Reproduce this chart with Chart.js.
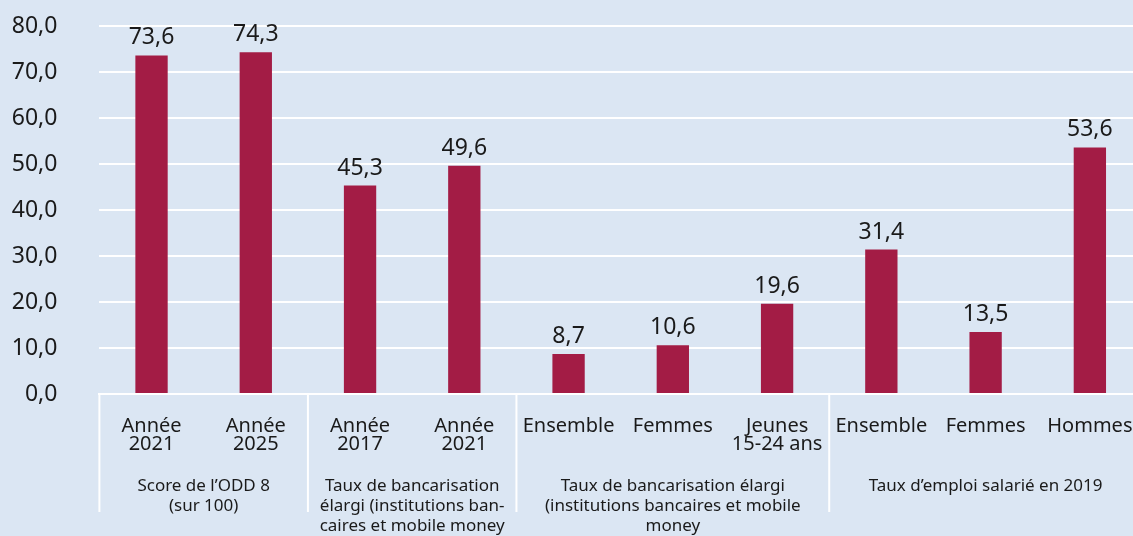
<!DOCTYPE html>
<html lang="fr">
<head>
<meta charset="utf-8">
<title>ODD 8</title>
<script src="https://cdn.jsdelivr.net/npm/chart.js@4.4.1/dist/chart.umd.min.js"></script>
<style>
  html, body { margin: 0; padding: 0; background: #dbe6f3; overflow: hidden; }
</style>
</head>
<body>
<canvas id="chart" width="1142" height="536"></canvas>
<script>
// ===== DATA =====
const categories = [
  ['Année', '2021'], ['Année', '2025'],
  ['Année', '2017'], ['Année', '2021'],
  ['Ensemble'], ['Femmes'], ['Jeunes', '15-24 ans'],
  ['Ensemble'], ['Femmes'], ['Hommes']
];
const values = [73.6, 74.3, 45.3, 49.6, 8.7, 10.6, 19.6, 31.4, 13.5, 53.6];
const groupLabels = [
  ['Score de l\u2019ODD 8', '(sur 100)'],
  ['Taux de bancarisation', 'élargi (institutions ban-', 'caires et mobile money'],
  ['Taux de bancarisation élargi', '(institutions bancaires et mobile', 'money'],
  ['Taux d\u2019emploi salarié en 2019']
];
const groupSizes = [2, 2, 3, 3];
const yTicks = [0, 10, 20, 30, 40, 50, 60, 70, 80];

const BAR = '#a31c45';
const INK = '#1a1a1a';
const fmt = v => v.toFixed(1).replace('.', ',');

Chart.defaults.font.family = "'Noto Sans', sans-serif";
Chart.defaults.color = INK;

// ===== VALUE LABELS + GROUPS =====
const decorPlugin = {
  id: 'decor',
  afterDatasetsDraw(chart) {
    const ctx = chart.ctx;
    ctx.save();
    ctx.fillStyle = INK;
    ctx.font = "23px 'Noto Sans', sans-serif";
    ctx.textAlign = 'center';
    ctx.textBaseline = 'alphabetic';
    chart.getDatasetMeta(0).data.forEach((bar, i) => {
      ctx.fillText(fmt(values[i]), bar.x, bar.y - 11);
    });
    ctx.restore();
  },
  afterDraw(chart) {
    const ctx = chart.ctx;
    const x = chart.scales.x;
    const step = x.getPixelForValue(1) - x.getPixelForValue(0);
    const edge = i => x.getPixelForValue(0) - step / 2 + i * step;
    const top = chart.chartArea.bottom;
    ctx.save();
    ctx.strokeStyle = '#ffffff';
    ctx.lineWidth = 2;
    let idx = 0;
    const bounds = [0];
    groupSizes.forEach(n => { idx += n; bounds.push(idx); });
    bounds.forEach(b => {
      ctx.beginPath();
      ctx.moveTo(edge(b), top);
      ctx.lineTo(edge(b), 512);
      ctx.stroke();
    });
    ctx.fillStyle = INK;
    ctx.font = "17px 'Noto Sans', sans-serif";
    ctx.textAlign = 'center';
    ctx.textBaseline = 'alphabetic';
    groupLabels.forEach((lines, g) => {
      const cx = (edge(bounds[g]) + edge(bounds[g + 1])) / 2;
      lines.forEach((ln, k) => ctx.fillText(ln, cx, 491 + k * 20));
    });
    ctx.restore();
  }
};

new Chart(document.getElementById('chart'), {
  type: 'bar',
  data: {
    labels: categories,
    datasets: [{
      data: values,
      backgroundColor: BAR,
      borderWidth: 0,
      categoryPercentage: 1,
      barPercentage: 0.31
    }]
  },
  options: {
    responsive: false,
    animation: false,
    layout: { padding: { top: 26, right: 0, bottom: 0, left: 0 } },
    plugins: { legend: { display: false }, tooltip: { enabled: false } },
    scales: {
      x: {
        grid: { display: false, drawTicks: false },
        border: { display: true, color: '#ffffff', width: 2 },
        ticks: {
          color: INK,
          font: { size: 20, lineHeight: 0.9 },
          padding: 23,
          maxRotation: 0,
          autoSkip: false
        },
        afterFit: s => { s.height = 142; s.paddingLeft = 0; s.paddingRight = 0; }
      },
      y: {
        min: yTicks[0],
        max: yTicks[yTicks.length - 1],
        afterBuildTicks: s => { s.ticks = yTicks.map(v => ({ value: v })); },
        grid: { color: '#ffffff', lineWidth: 2, drawTicks: false },
        border: { display: false },
        ticks: {
          color: INK,
          font: { size: 23 },
          padding: 42,
          callback: v => fmt(v)
        },
        afterFit: s => { s.width = 99.4; s.paddingTop = 0; s.paddingBottom = 0; }
      }
    }
  },
  plugins: [decorPlugin]
});
</script>
</body>
</html>
